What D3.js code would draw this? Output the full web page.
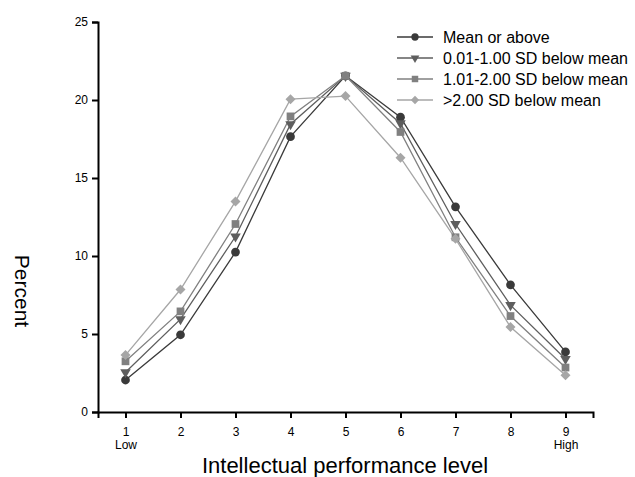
<!DOCTYPE html>
<html><head><meta charset="utf-8">
<script src="https://cdn.jsdelivr.net/npm/d3@7"></script>
<style>body{margin:0;background:#fff}svg{display:block;font-family:Arial,"Liberation Sans",sans-serif}</style>
</head><body><svg id="c" width="635" height="477"></svg>
<script>
const levels = [1,2,3,4,5,6,7,8,9];
const levelSub = {1:"Low", 9:"High"};
const seriesNames = ["Mean or above","0.01-1.00 SD below mean","1.01-2.00 SD below mean",">2.00 SD below mean"];
const meanOrAbove = [2.05,4.95,10.25,17.65,21.55,18.9,13.15,8.15,3.85];
const sd0to1 = [2.55,5.95,11.25,18.45,21.55,18.5,12.05,6.85,3.4];
const sd1to2 = [3.25,6.45,12.05,18.95,21.55,17.95,11.2,6.15,2.85];
const sdOver2 = [3.65,7.85,13.5,20.05,20.25,16.3,11.1,5.45,2.35];
const yTicks = [0,5,10,15,20,25];

const data = [meanOrAbove, sd0to1, sd1to2, sdOver2];
const colors = ["#3a3a3a","#5e5e5e","#808080","#a6a6a6"];
const symbols = [d3.symbolCircle, d3.symbolTriangle, d3.symbolSquare, d3.symbolSquare];
const sizes = [60, 48, 60, 50];
const rot = [0, 180, 0, 45];
const FONT = "Arial,'Liberation Sans',sans-serif";

const svg = d3.select("#c");
const x = d3.scaleLinear().domain([0.5,9.5]).range([98,593]);
const y = d3.scaleLinear().domain([0,25]).range([412,22]);

// axes
const ya = svg.append("g").attr("transform","translate(98,0)")
  .call(d3.axisLeft(y).tickValues(yTicks).tickSize(6).tickPadding(4));
const xa = svg.append("g").attr("transform","translate(0,412)")
  .call(d3.axisBottom(x).tickValues(levels).tickSize(6).tickPadding(9));
[ya,xa].forEach(a=>{
  a.select(".domain").attr("stroke","#000").attr("stroke-width",2);
  a.selectAll(".tick line").attr("stroke","#000").attr("stroke-width",2);
  a.selectAll("text").attr("font-size",12).attr("fill","#000").attr("font-family",FONT);
});
xa.selectAll(".tick").filter(d=>levelSub[d]).append("text")
  .attr("y",28).attr("dy","0.71em").attr("text-anchor","middle")
  .attr("font-size",12).attr("fill","#000").attr("font-family",FONT)
  .text(d=>levelSub[d]);

// lines + markers
const line = d3.line().x((d,i)=>x(levels[i])).y(d=>y(d));
data.forEach((s,k)=>{
  svg.append("path").datum(s).attr("d",line).attr("fill","none")
    .attr("stroke",colors[k]).attr("stroke-width",1.3);
});
data.forEach((s,k)=>{
  svg.append("g").selectAll("path").data(s).join("path")
    .attr("transform",(d,i)=>`translate(${x(levels[i])},${y(d)}) rotate(${rot[k]})`)
    .attr("d",d3.symbol().type(symbols[k]).size(sizes[k])).attr("fill",colors[k]);
});

// legend
const lg = svg.append("g");
seriesNames.forEach((n,k)=>{
  const yy = 37 + k*21;
  lg.append("line").attr("x1",397).attr("x2",433).attr("y1",yy).attr("y2",yy)
    .attr("stroke",colors[k]).attr("stroke-width",1.3);
  lg.append("path").attr("transform",`translate(415,${yy}) rotate(${rot[k]})`)
    .attr("d",d3.symbol().type(symbols[k]).size(sizes[k]*0.7)).attr("fill",colors[k]);
  lg.append("text").attr("x",443).attr("y",yy).attr("dy","0.35em")
    .attr("font-size",16).attr("fill","#000").text(n);
});

// axis titles
svg.append("text").attr("x",345).attr("y",473).attr("text-anchor","middle")
  .attr("font-size",22).attr("fill","#000").text("Intellectual performance level");
svg.append("text").attr("transform","translate(22,291) rotate(90)").attr("text-anchor","middle")
  .attr("dy","0.35em").attr("font-size",21).attr("fill","#000").text("Percent");
</script></body></html>
